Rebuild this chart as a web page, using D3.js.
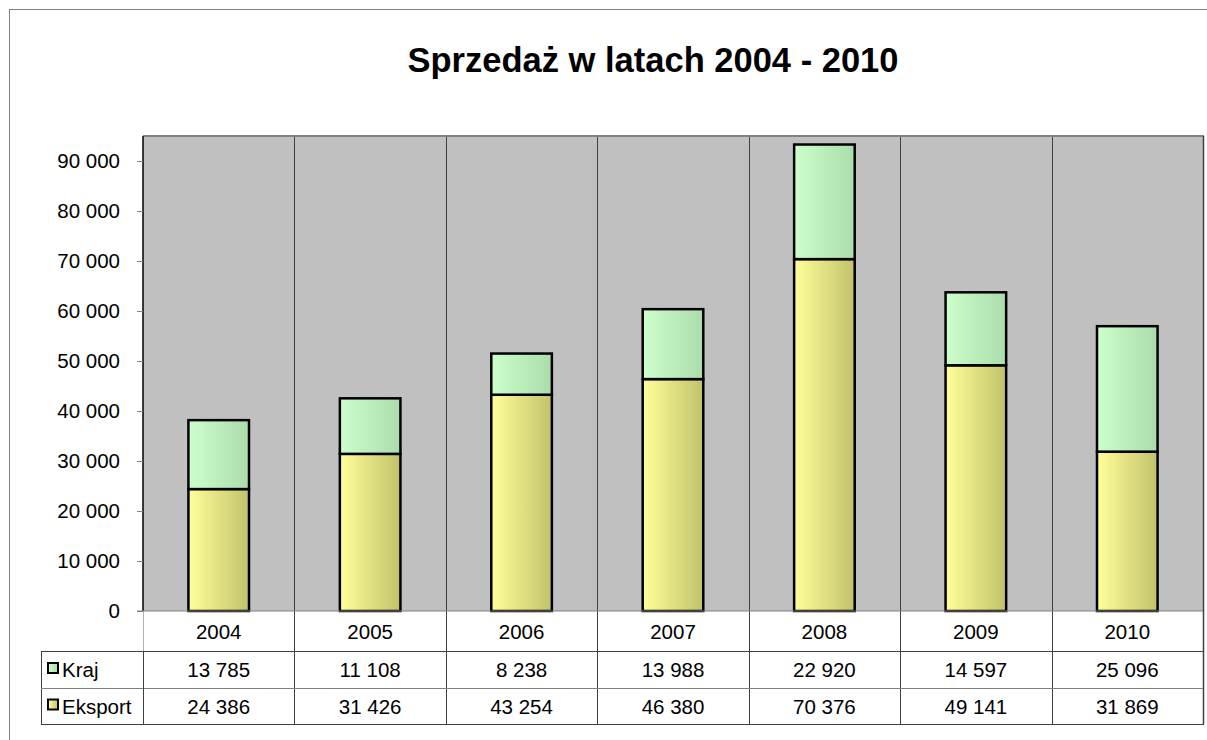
<!DOCTYPE html>
<html>
<head>
<meta charset="utf-8">
<script src="https://cdn.jsdelivr.net/npm/d3@7"></script>
<style>
  html, body { margin: 0; padding: 0; background: #fff; }
  svg { display: block; font-family: "Liberation Sans", Arial, sans-serif; }
</style>
</head>
<body>
<svg id="chart" width="1207" height="740"></svg>
<script>
const title = "Sprzedaż w latach 2004 - 2010";
const categories = ["2004", "2005", "2006", "2007", "2008", "2009", "2010"];
const seriesNames = ["Kraj", "Eksport"];
const kraj = [13785, 11108, 8238, 13988, 22920, 14597, 25096];
const eksport = [24386, 31426, 43254, 46380, 70376, 49141, 31869];
const yTicks = [0, 10000, 20000, 30000, 40000, 50000, 60000, 70000, 80000, 90000];

const svg = d3.select("#chart");
const W = 1207, H = 740;
const plot = { left: 143, right: 1203, top: 136, bottom: 611 };
const tableRows = { header: [611, 651], kraj: [651, 688], eksport: [688, 724] };
const legendLeft = 41;
const FS = 20.5;

const locale = d3.formatLocale({ decimal: ",", thousands: " ", grouping: [3], currency: ["", " zł"] });
const fmt = locale.format(",d");

// defs: gradients
const defs = svg.append("defs");
function grad(id, c1, c2) {
  const g = defs.append("linearGradient").attr("id", id).attr("x1", "0%").attr("x2", "100%").attr("y1", "0%").attr("y2", "0%");
  g.append("stop").attr("offset", "0%").attr("stop-color", c1);
  g.append("stop").attr("offset", "100%").attr("stop-color", c2);
}
grad("gEks", "#FFFF99", "#C2C26C");
grad("gKraj", "#CCFFCC", "#ABDCAB");

// outer chart border
svg.append("rect").attr("x", 9.5).attr("y", 9.5).attr("width", W + 20).attr("height", H + 20)
  .attr("fill", "#fff").attr("stroke", "#808080").attr("stroke-width", 1);

// title
svg.append("text").attr("x", 653).attr("y", 72).attr("text-anchor", "middle")
  .attr("font-size", 34.5).attr("font-weight", "bold").attr("fill", "#000").text(title);

const x = d3.scaleBand().domain(categories).range([plot.left, plot.right]).paddingInner(0).paddingOuter(0);
const y = d3.scaleLinear().domain([0, 95000]).range([plot.bottom, plot.top]);

// plot area background
svg.append("rect").attr("x", plot.left).attr("y", plot.top).attr("width", plot.right - plot.left)
  .attr("height", plot.bottom - plot.top).attr("fill", "#C0C0C0");

// vertical category dividers (through plot and table)
categories.forEach((c, i) => {
  if (i === 0) return;
  const xx = Math.round(x(c)) + 0.5;
  svg.append("line").attr("x1", xx).attr("x2", xx).attr("y1", plot.top).attr("y2", tableRows.eksport[1])
    .attr("stroke", "#404040").attr("stroke-width", 1);
});

// plot borders
svg.append("line").attr("x1", plot.left).attr("x2", plot.right + 1).attr("y1", plot.top).attr("y2", plot.top)
  .attr("stroke", "#808080").attr("stroke-width", 2);
svg.append("line").attr("x1", plot.left).attr("x2", plot.left).attr("y1", plot.top).attr("y2", plot.bottom)
  .attr("stroke", "#000").attr("stroke-width", 1.5);
svg.append("line").attr("x1", plot.right + 0.5).attr("x2", plot.right + 0.5).attr("y1", plot.top).attr("y2", tableRows.eksport[1])
  .attr("stroke", "#404040").attr("stroke-width", 1.5);

// y axis
const yAxis = d3.axisLeft(y).tickValues(yTicks).tickSize(6).tickPadding(17).tickFormat(d => fmt(d));
const ga = svg.append("g").attr("transform", `translate(${plot.left},0)`).call(yAxis);
ga.select(".domain").remove();
ga.selectAll(".tick line").attr("stroke", "#808080");
ga.selectAll(".tick text").attr("font-size", FS).attr("fill", "#000")
  .attr("font-family", "'Liberation Sans', Arial, sans-serif");

// bars
const bw = x.bandwidth() * 0.4;
const data = categories.map((c, i) => ({ c, eks: eksport[i], kraj: kraj[i] }));
const bars = svg.append("g");
bars.selectAll("rect.eks").data(data).join("rect").attr("class", "eks")
  .attr("x", d => x(d.c) + (x.bandwidth() - bw) / 2).attr("width", bw)
  .attr("y", d => y(d.eks)).attr("height", d => y(0) - y(d.eks))
  .attr("fill", "url(#gEks)").attr("stroke", "#000").attr("stroke-width", 2.5);
bars.selectAll("rect.kraj").data(data).join("rect").attr("class", "kraj")
  .attr("x", d => x(d.c) + (x.bandwidth() - bw) / 2).attr("width", bw)
  .attr("y", d => y(d.eks + d.kraj)).attr("height", d => y(d.eks) - y(d.eks + d.kraj))
  .attr("fill", "url(#gKraj)").attr("stroke", "#000").attr("stroke-width", 2.5);

// baseline
svg.append("line").attr("x1", plot.left - 6).attr("x2", plot.right).attr("y1", plot.bottom).attr("y2", plot.bottom)
  .attr("stroke", "#808080").attr("stroke-width", 1);

// data table
const tbl = svg.append("g");
tbl.append("line").attr("x1", plot.left + 0.5).attr("x2", plot.left + 0.5).attr("y1", plot.bottom).attr("y2", tableRows.kraj[0])
  .attr("stroke", "#B0B0B0");
tbl.selectAll("text.cat").data(categories).join("text").attr("class", "cat")
  .attr("x", d => x(d) + x.bandwidth() / 2).attr("y", (tableRows.header[0] + tableRows.header[1]) / 2 + 8)
  .attr("text-anchor", "middle").attr("font-size", FS).attr("fill", "#000").text(d => d);

tbl.append("rect").attr("x", legendLeft + 0.5).attr("y", tableRows.kraj[0] + 0.5)
  .attr("width", plot.right - legendLeft).attr("height", tableRows.eksport[1] - tableRows.kraj[0])
  .attr("fill", "none").attr("stroke", "#404040").attr("stroke-width", 1);
tbl.append("line").attr("x1", legendLeft).attr("x2", plot.right).attr("y1", tableRows.eksport[0] + 0.5).attr("y2", tableRows.eksport[0] + 0.5)
  .attr("stroke", "#808080");
tbl.append("line").attr("x1", plot.left + 0.5).attr("x2", plot.left + 0.5).attr("y1", tableRows.kraj[0]).attr("y2", tableRows.eksport[1])
  .attr("stroke", "#404040");

const rows = [
  { name: seriesNames[0], vals: kraj, band: tableRows.kraj, fill: "url(#gKraj)" },
  { name: seriesNames[1], vals: eksport, band: tableRows.eksport, fill: "url(#gEks)" }
];
rows.forEach(r => {
  const cy = (r.band[0] + r.band[1]) / 2;
  tbl.append("rect").attr("x", 48).attr("y", cy - 6.5).attr("width", 10).attr("height", 10)
    .attr("fill", r.fill).attr("stroke", "#000").attr("stroke-width", 2);
  tbl.append("text").attr("x", 62).attr("y", cy + 7.5).attr("font-size", FS).attr("fill", "#000").text(r.name);
  tbl.selectAll(null).data(categories).join("text")
    .attr("x", d => x(d) + x.bandwidth() / 2).attr("y", cy + 7.5)
    .attr("text-anchor", "middle").attr("font-size", FS).attr("fill", "#000")
    .text((d, i) => fmt(r.vals[i]));
});
</script>
</body>
</html>
